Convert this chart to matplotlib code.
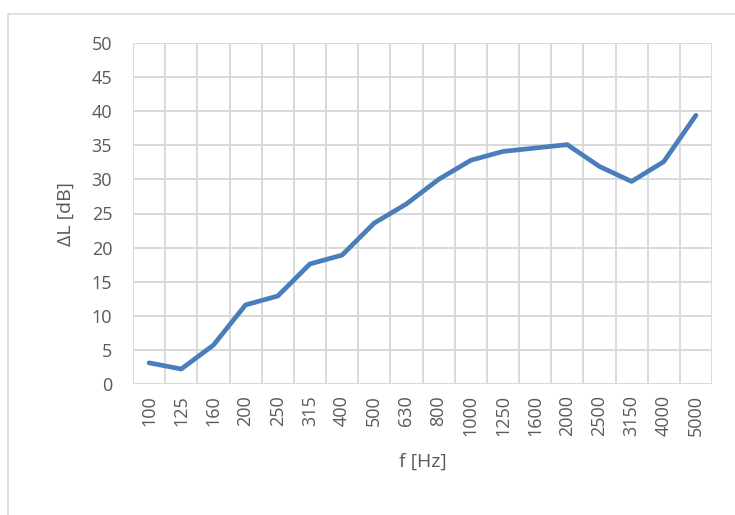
import numpy as np
import matplotlib
matplotlib.use('Agg')
import matplotlib.pyplot as plt
from matplotlib.patches import Rectangle

# third-octave band centre frequencies and level difference
freqs = ['100', '125', '160', '200', '250', '315', '400', '500', '630', '800',
         '1000', '1250', '1600', '2000', '2500', '3150', '4000', '5000']
delta_L = [3.1, 2.2, 5.7, 11.6, 12.9, 17.6, 18.9, 23.6, 26.4, 30.0,
           32.8, 34.1, 34.6, 35.1, 31.9, 29.7, 32.6, 39.4]
y_ticks = [0, 5, 10, 15, 20, 25, 30, 35, 40, 45, 50]

txt = '#595959'
grid = '#d9d9d9'
plt.rcParams['font.family'] = ['Open Sans', 'DejaVu Sans']

fig = plt.figure(figsize=(7.35, 5.15), dpi=100)
# outer chart border (partly cut off at the right and bottom)
fig.patches.append(Rectangle((8/735, -0.05), 1.1, 1 - 14/515 + 0.05,
                             transform=fig.transFigure, fill=False,
                             edgecolor=grid, linewidth=1.2))

ax = fig.add_axes([133/735, 131/515, 579/735, 341/515])
x = np.arange(len(freqs))
ax.plot(x, delta_L, color='#4a7ebb', linewidth=3.4, solid_capstyle='round',
        solid_joinstyle='round', zorder=3)

ax.set_xlim(-0.5, len(freqs) - 0.5)
ax.set_ylim(0, 50)
ax.set_yticks(y_ticks)
ax.set_xticks(x)
ax.set_xticklabels(freqs, rotation=90)

# vertical grid between categories, horizontal at every y tick
for b in np.arange(-0.5, len(freqs), 1.0):
    ax.axvline(b, color=grid, linewidth=1.4, zorder=1)
for yt in y_ticks:
    ax.axhline(yt, color=grid, linewidth=1.4, zorder=1)

for s in ax.spines.values():
    s.set_visible(False)
ax.tick_params(axis='both', length=0, colors=txt, labelsize=13)
ax.tick_params(axis='y', pad=15)
ax.tick_params(axis='x', pad=8)

ax.set_ylabel('ΔL [dB]', color=txt, fontsize=14, labelpad=12)
ax.set_xlabel('f [Hz]', color=txt, fontsize=14, labelpad=12)

fig.savefig('out.png', dpi=100)
